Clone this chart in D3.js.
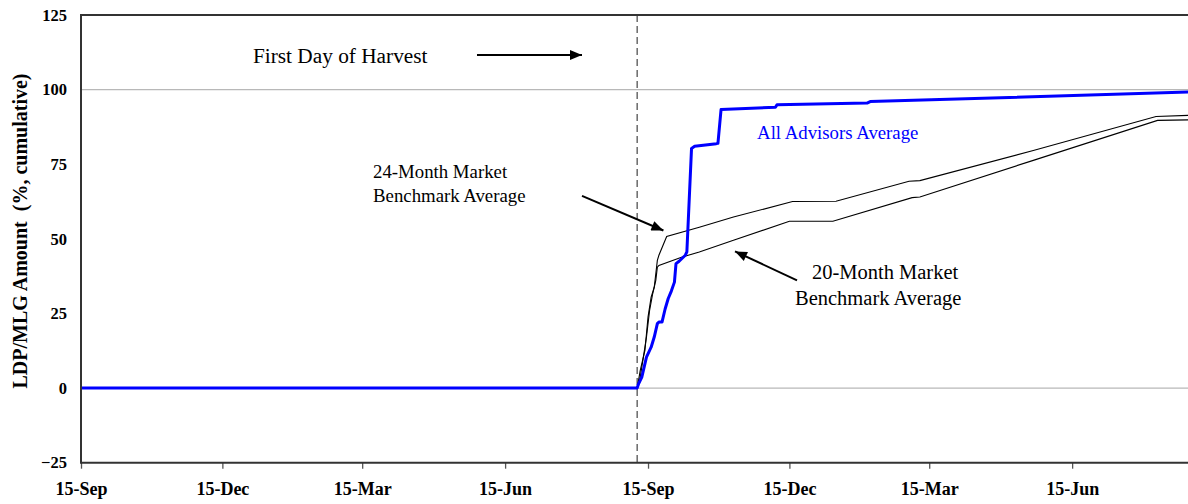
<!DOCTYPE html>
<html><head><meta charset="utf-8">
<script src="https://cdn.jsdelivr.net/npm/d3@7"></script>
<style>html,body{margin:0;padding:0;background:#fff;} svg{display:block;font-family:"Liberation Serif","Times New Roman",serif;}</style>
</head><body>
<svg id="chart" width="1188" height="504"></svg>
<script>
// ---------- data ----------
const startDate = "2001-09-15";
const endDate = "2003-08-31";
const harvestDate = "2002-09-08";
const tickDates = ["2001-09-15","2001-12-15","2002-03-15","2002-06-15","2002-09-15","2002-12-15","2003-03-15","2003-06-15"];
const tickLabels = ["15-Sep","15-Dec","15-Mar","15-Jun","15-Sep","15-Dec","15-Mar","15-Jun"];
const yTicks = [-25, 0, 25, 50, 75, 100, 125];
const yGridValues = [0, 100];

const advisorsDates = ["2001-09-15","2002-09-08","2002-09-09","2002-09-11","2002-09-14","2002-09-17","2002-09-19","2002-09-21","2002-09-22","2002-09-24","2002-09-26","2002-09-28","2002-09-30","2002-10-02","2002-10-03","2002-10-05","2002-10-07","2002-10-09","2002-10-10","2002-10-13","2002-10-15","2002-10-29","2002-10-30","2002-11-01","2002-12-06","2002-12-07","2003-02-03","2003-02-05","2003-08-31"];
const advisorsValues = [0,0,1.5,3.7,10.4,13.7,17.1,21.6,22.1,22.1,26.5,30.0,32.5,35.5,41.7,42.5,43.5,44.5,45.6,80.3,81.0,81.9,82.0,93.3,94.1,94.9,95.5,96.0,99.2];

const bench24Dates = ["2001-09-15","2002-09-08","2002-09-10","2002-09-13","2002-09-15","2002-09-17","2002-09-19","2002-09-21","2002-09-22","2002-09-27","2002-10-18","2002-11-09","2002-12-17","2003-01-14","2003-03-02","2003-03-09","2003-05-21","2003-08-08","2003-08-31"];
const bench24Values = [0,0,5.9,12.6,23.8,30.5,33.8,42.8,44.5,50.8,53.9,57.3,62.5,62.6,69.3,69.5,79.6,91.0,91.4];

const bench20Dates = ["2001-09-15","2002-09-08","2002-09-10","2002-09-12","2002-09-14","2002-09-16","2002-09-18","2002-09-20","2002-09-21","2002-09-22","2002-10-07","2002-10-18","2002-11-09","2002-12-15","2003-01-12","2003-03-04","2003-03-09","2003-05-21","2003-08-09","2003-08-31"];
const bench20Values = [0,0,3.7,10.4,17.1,26.0,31.6,36.1,40.5,41.1,43.9,45.6,49.5,55.9,55.9,63.8,64.0,76.3,89.7,89.9];

// annotations in data space: [days after start, value]
const harvestText = "First Day of Harvest";
const harvestTextPos = [110.7, 108.8];
const harvestArrow = [[254.9, 111.6], [322.5, 111.6]];
const advisorsText = "All Advisors Average";
const advisorsTextPos = [435.2, 83.5];
const bench24Text = ["24-Month Market", "Benchmark Average"];
const bench24TextPos = [[188, 70.3], [188, 62.2]];
const bench24Arrow = [[322.5, 64.4], [374.9, 52.8]];
const bench20Text = ["20-Month Market", "Benchmark Average"];
const bench20TextPos = [[470.5, 36.4], [459.6, 28.0]];
const bench20Arrow = [[460.9, 36.1], [421.0, 45.8]];
const yTitle = "LDP/MLG Amount  (%, cumulative)";

// ---------- chart ----------
const parse = d3.utcParse("%Y-%m-%d");
const t0 = parse(startDate), t1 = parse(endDate);
const plotLeft = 81, plotTop = 15, plotBottom = 462.7, pxPerDay = 1.5535;
const x = d3.scaleUtc().domain([t0, t1]).range([plotLeft, plotLeft + (t1 - t0) / 864e5 * pxPerDay]);
const y = d3.scaleLinear().domain([-25, 125]).range([plotBottom, plotTop]);
const dayX = d => x(new Date(t0.getTime() + d * 864e5));

const svg = d3.select("#chart");
const W = 1188;

svg.append("defs").append("marker")
  .attr("id", "arrow").attr("markerUnits", "userSpaceOnUse")
  .attr("viewBox", "0 0 12 10").attr("refX", 12).attr("refY", 5)
  .attr("markerWidth", 13).attr("markerHeight", 10).attr("orient", "auto")
  .append("path").attr("d", "M0,0 L12,5 L0,10 Z").attr("fill", "#000");

// gridlines
svg.append("g").selectAll("line").data(yGridValues).join("line")
  .attr("x1", plotLeft).attr("x2", W).attr("y1", d => y(d)).attr("y2", d => y(d))
  .attr("stroke", "#b8b8b8").attr("stroke-width", 1.2);

// harvest dashed line
svg.append("line")
  .attr("x1", x(parse(harvestDate))).attr("x2", x(parse(harvestDate)))
  .attr("y1", plotTop).attr("y2", plotBottom)
  .attr("stroke", "#444").attr("stroke-width", 1.2).attr("stroke-dasharray", "7,4");

const line = d3.line().x(d => x(d[0])).y(d => y(d[1]));
const series = (dates, vals) => dates.map((d, i) => [parse(d), vals[i]]);

svg.append("path").datum(series(bench20Dates, bench20Values)).attr("d", line)
  .attr("fill", "none").attr("stroke", "#000").attr("stroke-width", 1.1);
svg.append("path").datum(series(bench24Dates, bench24Values)).attr("d", line)
  .attr("fill", "none").attr("stroke", "#000").attr("stroke-width", 1.1);
svg.append("path").datum(series(advisorsDates, advisorsValues)).attr("d", line)
  .attr("fill", "none").attr("stroke", "#0000ff").attr("stroke-width", 3).attr("stroke-linejoin", "round");

// x axis
const xAxis = d3.axisBottom(x).tickValues(tickDates.map(parse))
  .tickFormat((d, i) => tickLabels[i]).tickSize(6).tickPadding(14);
const gx = svg.append("g").attr("transform", `translate(0,${plotBottom})`).call(xAxis);
gx.select(".domain").remove();
gx.selectAll(".tick line").attr("stroke", "#555").attr("stroke-width", 1.3);
gx.selectAll(".tick text").attr("font-family", "Liberation Serif").attr("font-weight", "bold")
  .attr("font-size", 18).attr("fill", "#000");

// y axis
const yAxis = d3.axisLeft(y).tickValues(yTicks).tickSize(0).tickPadding(14);
const gy = svg.append("g").attr("transform", `translate(${plotLeft},0)`).call(yAxis);
gy.select(".domain").remove();
gy.selectAll(".tick text").attr("font-family", "Liberation Serif").attr("font-weight", "bold")
  .attr("font-size", 16.5).attr("fill", "#000");

// frame
svg.append("line").attr("x1", plotLeft).attr("x2", W).attr("y1", plotTop).attr("y2", plotTop)
  .attr("stroke", "#333").attr("stroke-width", 2);
svg.append("line").attr("x1", plotLeft).attr("x2", W).attr("y1", plotBottom).attr("y2", plotBottom)
  .attr("stroke", "#333").attr("stroke-width", 2);
svg.append("line").attr("x1", plotLeft).attr("x2", plotLeft).attr("y1", plotTop - 1).attr("y2", plotBottom + 1)
  .attr("stroke", "#333").attr("stroke-width", 2);

// y title
svg.append("text").attr("transform", "translate(27,231) rotate(-90)")
  .attr("text-anchor", "middle").attr("font-weight", "bold").attr("font-size", 20)
  .style("white-space", "pre").text(yTitle);

// annotations
const ann = svg.append("g").attr("font-size", 19).attr("fill", "#000");
ann.append("text").attr("x", dayX(harvestTextPos[0])).attr("y", y(harvestTextPos[1]))
  .attr("font-size", 21.3).text(harvestText);
ann.append("text").attr("x", dayX(advisorsTextPos[0])).attr("y", y(advisorsTextPos[1]))
  .attr("fill", "#0000ff").attr("font-size", 18.8).text(advisorsText);
bench24Text.forEach((t, i) => ann.append("text").attr("x", dayX(bench24TextPos[i][0])).attr("y", y(bench24TextPos[i][1])).attr("font-size", 18.8).text(t));
bench20Text.forEach((t, i) => ann.append("text").attr("x", dayX(bench20TextPos[i][0])).attr("y", y(bench20TextPos[i][1])).attr("font-size", 20.5).text(t));

[harvestArrow, bench24Arrow, bench20Arrow].forEach(a => {
  svg.append("line")
    .attr("x1", dayX(a[0][0])).attr("y1", y(a[0][1]))
    .attr("x2", dayX(a[1][0])).attr("y2", y(a[1][1]))
    .attr("stroke", "#000").attr("stroke-width", 2).attr("marker-end", "url(#arrow)");
});
</script>
</body></html>
